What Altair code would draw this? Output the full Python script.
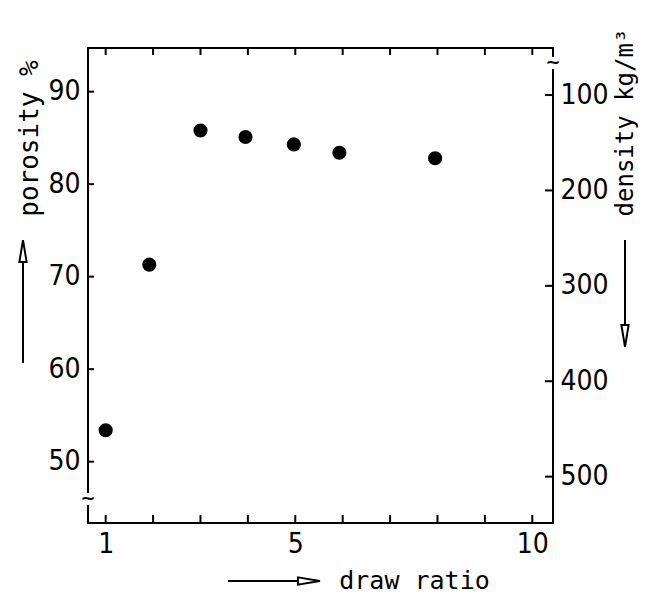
import altair as alt
import pandas as pd

# ---- data ----
draw_ratio = [1.0, 1.92, 3.0, 3.95, 4.97, 5.93, 7.95]
porosity = [53.4, 71.3, 85.8, 85.1, 84.3, 83.4, 82.8]
x_ticks = [1, 2, 3, 4, 5, 6, 7, 8, 9, 10]
x_labels = [1, 5, 10]
por_ticks = [50, 60, 70, 80, 90]
dens_ticks = [100, 200, 300, 400, 500]

W, H = 465, 475
X_DOM = [0.627, 10.437]
P_DOM = [43.37, 94.72]
D_DOM = [50.7, 548.6]
FONT_NUM = "Liberation Sans Narrow, DejaVu Sans Condensed, sans-serif"
FONT_TXT = "DejaVu Sans Mono"
NUM_SIZE = 28
TXT_SIZE = 25

xs = alt.Scale(domain=X_DOM, nice=False, zero=False)
ps = alt.Scale(domain=P_DOM, nice=False, zero=False)
ds = alt.Scale(domain=D_DOM, nice=False, zero=False, reverse=True)

one = pd.DataFrame({"a": [0]})

pts = alt.Chart(pd.DataFrame({"dr": draw_ratio, "p": porosity})).mark_circle(
    size=200, color="black", opacity=1
).encode(
    x=alt.X("dr:Q", scale=xs, axis=alt.Axis(
        values=x_labels, ticks=False, domain=False, grid=False,
        labelFont=FONT_NUM, labelFontSize=NUM_SIZE, labelColor="black", labelPadding=7,
        title="draw ratio", titleFont=FONT_TXT, titleFontSize=TXT_SIZE, titleFontWeight="normal",
        titleColor="black", titleX=326, titleY=57, titleAlign="center", titleBaseline="middle")),
    y=alt.Y("p:Q", scale=ps, axis=alt.Axis(
        values=por_ticks, ticks=False, domain=False, grid=False,
        labelFont=FONT_NUM, labelFontSize=NUM_SIZE, labelColor="black", labelPadding=8,
        title="porosity %", titleFont=FONT_TXT, titleFontSize=26, titleFontWeight="normal",
        titleColor="black", titleAngle=270, titleX=-59, titleY=90, titleAlign="center",
        titleBaseline="middle")),
)

xt_df = pd.DataFrame({"dr": x_ticks})
bottom_ticks = alt.Chart(xt_df).mark_rule(color="black", strokeWidth=2).encode(
    x=alt.X("dr:Q", scale=xs), y=alt.value(H), y2=alt.value(H - 8))
top_ticks = alt.Chart(xt_df).mark_rule(color="black", strokeWidth=2).encode(
    x=alt.X("dr:Q", scale=xs), y=alt.value(0), y2=alt.value(7))

left_ticks = alt.Chart(pd.DataFrame({"p": por_ticks})).mark_rule(color="black", strokeWidth=2).encode(
    y=alt.Y("p:Q", scale=ps, axis=None), x=alt.value(0), x2=alt.value(6))

right_ticks = alt.Chart(pd.DataFrame({"d": dens_ticks})).mark_rule(color="black", strokeWidth=2).encode(
    y=alt.Y("d:Q", scale=ds, axis=alt.Axis(
        orient="right", values=dens_ticks, ticks=False, domain=False, grid=False,
        labelFont=FONT_NUM, labelFontSize=NUM_SIZE, labelColor="black", labelPadding=7,
        title="density kg/m³", titleFont=FONT_TXT, titleFontSize=24, titleFontWeight="normal",
        titleColor="black", titleAngle=270, titleX=72, titleY=74, titleAlign="center",
        titleBaseline="middle")),
    x=alt.value(W - 8), x2=alt.value(W))

# axis-break marks
gap_left = alt.Chart(one).mark_rule(color="white", strokeWidth=5).encode(
    x=alt.value(0), y=alt.value(445), y2=alt.value(457))
gap_right = alt.Chart(one).mark_rule(color="white", strokeWidth=5).encode(
    x=alt.value(W), y=alt.value(9), y2=alt.value(21))
tilde_left = alt.Chart(one).mark_text(text="~", fontSize=18, fontWeight="bold", color="black",
                                      font="DejaVu Sans").encode(x=alt.value(0), y=alt.value(451))
tilde_right = alt.Chart(one).mark_text(text="~", fontSize=18, fontWeight="bold", color="black",
                                       font="DejaVu Sans").encode(x=alt.value(W), y=alt.value(15))

# title arrows
HEAD = "M0,-1L0.28,0.7L-0.28,0.7Z"
arr_left = alt.Chart(one).mark_rule(color="black", strokeWidth=2).encode(
    x=alt.value(-65), y=alt.value(213), y2=alt.value(315))
head_left = alt.Chart(one).mark_point(shape=HEAD, size=670, filled=False, color="black",
                                      strokeWidth=2, opacity=1, angle=0).encode(
    x=alt.value(-65), y=alt.value(205))
arr_right = alt.Chart(one).mark_rule(color="black", strokeWidth=2).encode(
    x=alt.value(537), y=alt.value(192), y2=alt.value(277))
head_right = alt.Chart(one).mark_point(shape=HEAD, size=670, filled=False, color="black",
                                       strokeWidth=2, opacity=1, angle=180).encode(
    x=alt.value(537), y=alt.value(286))
arr_bottom = alt.Chart(one).mark_rule(color="black", strokeWidth=2).encode(
    x=alt.value(140), x2=alt.value(210), y=alt.value(533))
head_bottom = alt.Chart(one).mark_point(shape=HEAD, size=670, filled=False, color="black",
                                        strokeWidth=2, opacity=1, angle=90).encode(
    x=alt.value(219), y=alt.value(533))

chart = alt.layer(
    bottom_ticks, top_ticks, left_ticks, right_ticks, pts,
    gap_left, gap_right, tilde_left, tilde_right,
    arr_left, head_left, arr_right, head_right, arr_bottom, head_bottom,
).resolve_scale(y="independent").properties(
    width=W, height=H,
    autosize=alt.AutoSizeParams(type="none"),
    padding={"left": 80, "top": 40, "right": 85, "bottom": 70},
    background="white",
).configure_view(stroke="black", strokeWidth=2)

chart.save("out.html", embed_options={"renderer": "svg", "actions": False})
